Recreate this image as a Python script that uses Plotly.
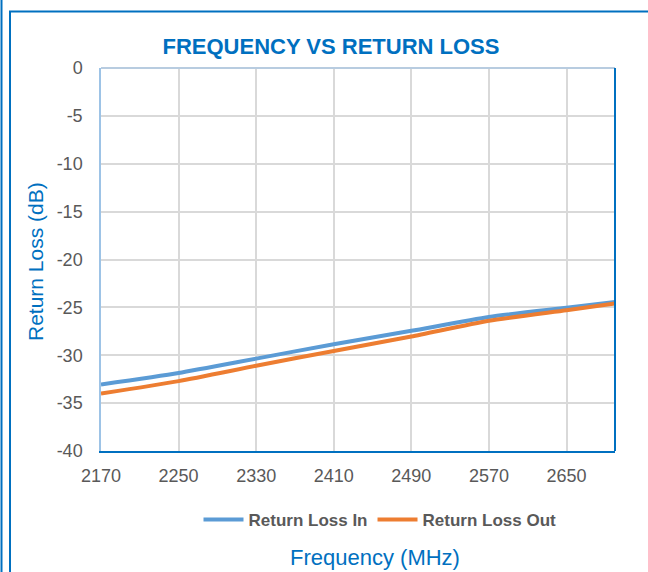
import plotly.graph_objects as go

freq = [2170, 2250, 2330, 2410, 2490, 2570, 2650, 2700]
rl_in = [-33.05, -31.85, -30.35, -28.85, -27.45, -26.0, -25.05, -24.45]
rl_out = [-34.0, -32.7, -31.1, -29.55, -28.05, -26.4, -25.3, -24.6]

x_ticks = [2170, 2250, 2330, 2410, 2490, 2570, 2650]
y_ticks = [0, -5, -10, -15, -20, -25, -30, -35, -40]
y_ticktext = ["0", "-5", "-10", "-15", "-20", "-25", "-30", "-35", "-40"]

W, H = 648, 572
L, R, T, B = 101, 33, 68, 121
pw, ph = W - L - R, H - T - B

def px(x):
    return (x - L) / pw

def py(y):
    return (H - B - y) / ph

BLUE = "#0070C0"
GRAY = "#595959"
FONT = "Liberation Sans, Arial, sans-serif"

fig = go.Figure()
fig.add_trace(go.Scatter(x=freq, y=rl_in, mode="lines", name="Return Loss In",
                         line=dict(color="#5B9BD5", width=4, shape="spline", smoothing=0.6)))
fig.add_trace(go.Scatter(x=freq, y=rl_out, mode="lines", name="Return Loss Out",
                         line=dict(color="#ED7D31", width=4, shape="spline", smoothing=0.6)))

fig.update_layout(
    width=W, height=H,
    margin=dict(l=L, r=R, t=T, b=B),
    paper_bgcolor="white", plot_bgcolor="white",
    font=dict(family=FONT, color=GRAY, size=18),
    title=dict(text="<b>FREQUENCY VS RETURN LOSS</b>", x=px(331), xref="paper",
               xanchor="center", y=1 - 46 / H, yanchor="middle",
               font=dict(family=FONT, size=22, color=BLUE)),
    showlegend=True,
    legend=dict(orientation="h", x=px(380), xanchor="center", y=py(520), yanchor="middle",
                font=dict(family=FONT, size=17, color=GRAY, weight="bold"),
                itemwidth=40, tracegroupgap=0, bgcolor="rgba(0,0,0,0)"),
    xaxis=dict(range=[2170, 2700], tickvals=x_ticks, showgrid=True, gridcolor="#D9D9D9",
               gridwidth=2, showline=True, linecolor=BLUE, linewidth=2,
               ticks="outside", ticklen=7, tickcolor="rgba(0,0,0,0)",
               zeroline=False, tickfont=dict(size=18, color=GRAY)),
    yaxis=dict(range=[-40, 0], tickvals=y_ticks, ticktext=y_ticktext, showgrid=True,
               gridcolor="#D9D9D9", gridwidth=2, showline=True, linecolor="#9DC3E6",
               linewidth=1.5, zeroline=False, ticks="outside", ticklen=13,
               tickcolor="rgba(0,0,0,0)", tickfont=dict(size=18, color=GRAY)),
    annotations=[
        dict(text="Frequency (MHz)", x=px(375), y=py(557), xref="paper", yref="paper",
             showarrow=False, font=dict(family=FONT, size=22, color=BLUE),
             xanchor="center", yanchor="middle"),
        dict(text="Return Loss (dB)", x=px(35), y=py(262), xref="paper", yref="paper",
             showarrow=False, textangle=-90, font=dict(family=FONT, size=21, color=BLUE),
             xanchor="center", yanchor="middle"),
    ],
    shapes=[
        dict(type="line", xref="paper", yref="paper", x0=0, x1=1, y0=1, y1=1,
             line=dict(color="#B8CCE0", width=2)),
        dict(type="line", xref="paper", yref="paper", x0=1, x1=1, y0=0, y1=1,
             line=dict(color=BLUE, width=2)),
        dict(type="rect", xref="paper", yref="paper", x0=px(10), x1=px(680),
             y0=py(600), y1=py(11.5), line=dict(color=BLUE, width=2)),
        dict(type="line", xref="paper", yref="paper", x0=px(1.5), x1=px(1.5),
             y0=py(0), y1=py(600), line=dict(color=BLUE, width=2)),
    ],
)

fig.write_html("out.html", config={"displayModeBar": False},
               post_script="document.body.style.margin='0';document.body.style.overflow='hidden';")
